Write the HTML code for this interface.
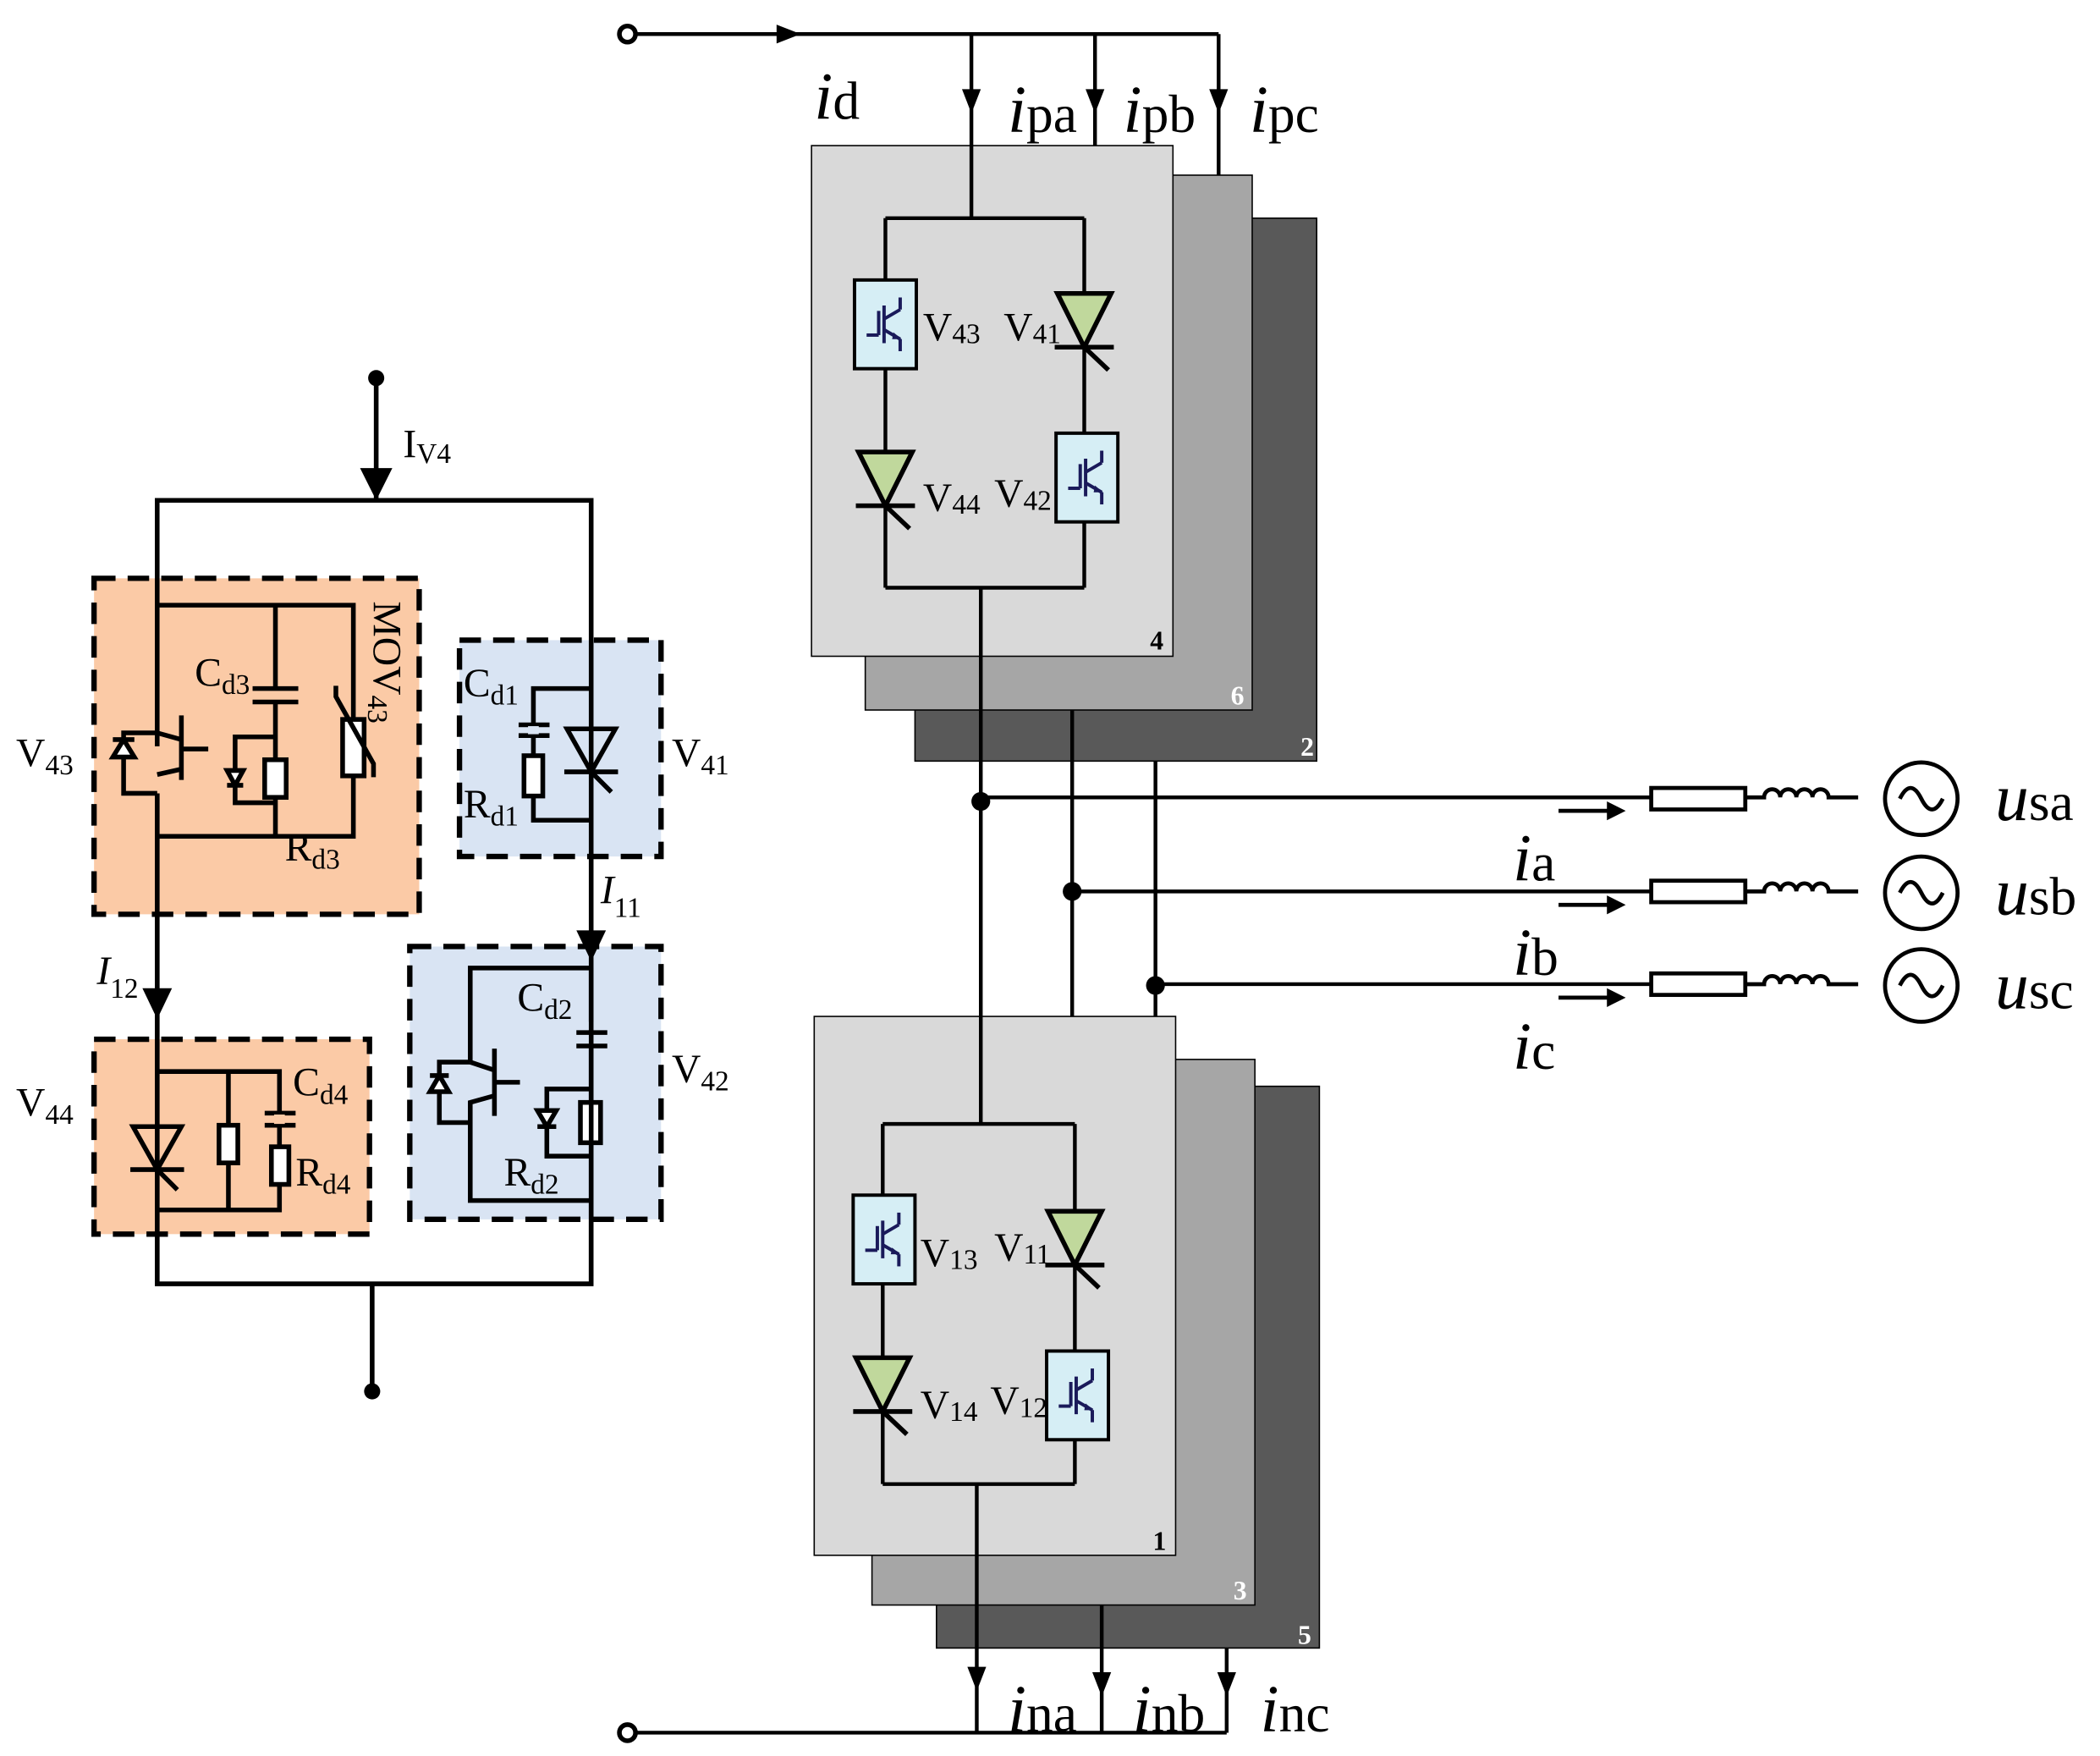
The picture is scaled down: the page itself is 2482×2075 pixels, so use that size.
<!DOCTYPE html>
<html><head><meta charset="utf-8"><style>
html,body{margin:0;padding:0;background:#fff}
svg{display:block}
text{font-family:"Liberation Serif",serif;fill:#000}
</style></head><body>
<svg width="2482" height="2075" viewBox="0 0 1563 1306" xmlns="http://www.w3.org/2000/svg">
<defs>
<g id="igbt">
 <rect x="-23" y="-33" width="46" height="66" fill="#d6eef5" stroke="#000" stroke-width="2.5"/>
 <g stroke="#1a1a5a" stroke-width="2.5" fill="none">
  <line x1="-14" y1="8" x2="-5" y2="8"/><line x1="-5" y1="-10" x2="-5" y2="8"/>
  <line x1="-1" y1="-14" x2="-1" y2="14"/>
  <line x1="-1" y1="-4" x2="11" y2="-11"/><line x1="11" y1="-11" x2="11" y2="-20"/>
  <line x1="-1" y1="4" x2="11" y2="11"/><line x1="11" y1="11" x2="11" y2="20"/>
 </g>
 <polygon points="6,6 12,11 5,11" fill="#1a1a5a"/>
</g>
<g id="thy">
 <polygon points="-20,0 20,0 0,40" fill="#c0d89c" stroke="#000" stroke-width="3.5"/>
 <line x1="-22" y1="40" x2="22" y2="40" stroke="#000" stroke-width="3.5"/>
 <line x1="0" y1="40" x2="18" y2="57" stroke="#000" stroke-width="3.5"/>
</g>
<g id="thyw">
 <polygon points="-18,0 18,0 0,32" fill="none" stroke="#000" stroke-width="3.5"/>
 <line x1="-20" y1="32" x2="20" y2="32" stroke="#000" stroke-width="3.5"/>
 <line x1="0" y1="32" x2="15" y2="47" stroke="#000" stroke-width="3.5"/>
</g>
</defs>

<rect x="681" y="162" width="299" height="404" fill="#595959" stroke="#000" stroke-width="1"/>
<rect x="644" y="130" width="288" height="398" fill="#a6a6a6" stroke="#000" stroke-width="1"/>
<rect x="604" y="108" width="269" height="380" fill="#d9d9d9" stroke="#000" stroke-width="1"/>
<text x="856" y="483" font-size="20" font-weight="bold" fill="#333">4</text>
<text x="916" y="524" font-size="20" font-weight="bold" style="fill:#fff">6</text>
<text x="968" y="562" font-size="20" font-weight="bold" style="fill:#fff">2</text>

<rect x="697" y="808" width="285" height="418" fill="#595959" stroke="#000" stroke-width="1"/>
<rect x="649" y="788" width="285" height="406" fill="#a6a6a6" stroke="#000" stroke-width="1"/>
<rect x="606" y="756" width="269" height="401" fill="#d9d9d9" stroke="#000" stroke-width="1"/>
<text x="858" y="1153" font-size="20" font-weight="bold" fill="#333">1</text>
<text x="918" y="1190" font-size="20" font-weight="bold" style="fill:#fff">3</text>
<text x="966" y="1223" font-size="20" font-weight="bold" style="fill:#fff">5</text>

<g stroke="#000" stroke-width="2.8" fill="none">
 <line x1="473" y1="25" x2="907" y2="25"/>
 <line x1="723" y1="25" x2="723" y2="162"/>
 <line x1="815" y1="25" x2="815" y2="108"/>
 <line x1="907" y1="25" x2="907" y2="130"/>
 <line x1="659" y1="162" x2="807" y2="162"/>
 <line x1="659" y1="162" x2="659" y2="437"/>
 <line x1="807" y1="162" x2="807" y2="437"/>
 <line x1="659" y1="437" x2="807" y2="437"/>
 <line x1="730" y1="437" x2="730" y2="836"/>
 <line x1="798" y1="528" x2="798" y2="756"/>
 <line x1="860" y1="566" x2="860" y2="756"/>
 <line x1="730" y1="593" x2="1233" y2="593"/>
 <line x1="798" y1="663" x2="1233" y2="663"/>
 <line x1="860" y1="732" x2="1233" y2="732"/>
 <line x1="657" y1="836" x2="800" y2="836"/>
 <line x1="657" y1="836" x2="657" y2="1104"/>
 <line x1="800" y1="836" x2="800" y2="1104"/>
 <line x1="657" y1="1104" x2="800" y2="1104"/>
 <line x1="727" y1="1104" x2="727" y2="1289"/>
 <line x1="820" y1="1194" x2="820" y2="1289"/>
 <line x1="913" y1="1226" x2="913" y2="1289"/>
 <line x1="473" y1="1289" x2="913" y2="1289"/>
</g>
<circle cx="467" cy="25" r="6" fill="#fff" stroke="#000" stroke-width="3.5"/>
<circle cx="467" cy="1289" r="6" fill="#fff" stroke="#000" stroke-width="3.5"/>
<polygon points="578,18 596,25 578,32" fill="#000"/>
<polygon points="716,66 730,66 723,84" fill="#000"/>
<polygon points="808,66 822,66 815,84" fill="#000"/>
<polygon points="900,66 914,66 907,84" fill="#000"/>
<polygon points="720,1240 734,1240 727,1258" fill="#000"/>
<polygon points="813,1244 827,1244 820,1262" fill="#000"/>
<polygon points="906,1244 920,1244 913,1262" fill="#000"/>
<circle cx="730" cy="596" r="7" fill="#000"/>
<circle cx="798" cy="663" r="7" fill="#000"/>
<circle cx="860" cy="733" r="7" fill="#000"/>

<use href="#igbt" x="659" y="241"/>
<use href="#thy" x="807" y="218"/>
<use href="#thy" x="659" y="336"/>
<use href="#igbt" x="809" y="355"/>
<text x="687" y="253" font-size="30">V<tspan font-size="21" dy="2">43</tspan></text>
<text x="747" y="253" font-size="30">V<tspan font-size="21" dy="2">41</tspan></text>
<text x="687" y="380" font-size="30">V<tspan font-size="21" dy="2">44</tspan></text>
<text x="740" y="377" font-size="30">V<tspan font-size="21" dy="2">42</tspan></text>
<use href="#igbt" x="658" y="922"/>
<use href="#thy" x="800" y="901"/>
<use href="#thy" x="657" y="1010"/>
<use href="#igbt" x="802" y="1038"/>
<text x="685" y="942" font-size="30">V<tspan font-size="21" dy="2">13</tspan></text>
<text x="740" y="938" font-size="30">V<tspan font-size="21" dy="2">11</tspan></text>
<text x="685" y="1055" font-size="30">V<tspan font-size="21" dy="2">14</tspan></text>
<text x="737" y="1052" font-size="30">V<tspan font-size="21" dy="2">12</tspan></text>

<g font-size="50">
<text x="606" y="88"><tspan font-style="italic">i</tspan><tspan font-size="40">d</tspan></text>
<text x="750" y="98"><tspan font-style="italic">i</tspan><tspan font-size="40">pa</tspan></text>
<text x="836" y="98"><tspan font-style="italic">i</tspan><tspan font-size="40">pb</tspan></text>
<text x="930" y="98"><tspan font-style="italic">i</tspan><tspan font-size="40">pc</tspan></text>
<text x="750" y="1288"><tspan font-style="italic">i</tspan><tspan font-size="40">na</tspan></text>
<text x="843" y="1288"><tspan font-style="italic">i</tspan><tspan font-size="40">nb</tspan></text>
<text x="938" y="1288"><tspan font-style="italic">i</tspan><tspan font-size="40">nc</tspan></text>
<text x="1126" y="655"><tspan font-style="italic">i</tspan><tspan font-size="40">a</tspan></text>
<text x="1126" y="725"><tspan font-style="italic">i</tspan><tspan font-size="40">b</tspan></text>
<text x="1126" y="795"><tspan font-style="italic">i</tspan><tspan font-size="40">c</tspan></text>
<text x="1485" y="610"><tspan font-style="italic">u</tspan><tspan font-size="40">sa</tspan></text>
<text x="1485" y="680"><tspan font-style="italic">u</tspan><tspan font-size="40">sb</tspan></text>
<text x="1485" y="750"><tspan font-style="italic">u</tspan><tspan font-size="40">sc</tspan></text>
</g>

<g stroke="#000" stroke-width="3" fill="none">
 <rect x="1229" y="586" width="70" height="16" fill="#fff"/>
 <rect x="1229" y="655" width="70" height="16" fill="#fff"/>
 <rect x="1229" y="724" width="70" height="16" fill="#fff"/>
 <path d="M1299 593 h14 a6 6 0 0 1 12 0 a6 6 0 0 1 12 0 a6 6 0 0 1 12 0 a6 6 0 0 1 12 0 h22"/>
 <path d="M1299 663 h14 a6 6 0 0 1 12 0 a6 6 0 0 1 12 0 a6 6 0 0 1 12 0 a6 6 0 0 1 12 0 h22"/>
 <path d="M1299 732 h14 a6 6 0 0 1 12 0 a6 6 0 0 1 12 0 a6 6 0 0 1 12 0 a6 6 0 0 1 12 0 h22"/>
 <circle cx="1430" cy="594" r="27"/>
 <circle cx="1430" cy="664" r="27"/>
 <circle cx="1430" cy="733" r="27"/>
 <path d="M1414 594 q8 -16 16 0 t16 0"/>
 <path d="M1414 664 q8 -16 16 0 t16 0"/>
 <path d="M1414 733 q8 -16 16 0 t16 0"/>
 <line x1="1160" y1="603" x2="1200" y2="603"/>
 <line x1="1160" y1="673" x2="1200" y2="673"/>
 <line x1="1160" y1="742" x2="1200" y2="742"/>
</g>
<polygon points="1196,596 1210,603 1196,610" fill="#000"/>
<polygon points="1196,666 1210,673 1196,680" fill="#000"/>
<polygon points="1196,735 1210,742 1196,749" fill="#000"/>

<rect x="70" y="430" width="242" height="250" fill="#fbcaa6" stroke="#000" stroke-width="4" stroke-dasharray="16 9"/>
<rect x="70" y="773" width="205" height="145" fill="#fbcaa6" stroke="#000" stroke-width="4" stroke-dasharray="16 9"/>
<rect x="342" y="476" width="150" height="161" fill="#d9e4f3" stroke="#000" stroke-width="4" stroke-dasharray="16 9"/>
<rect x="305" y="704" width="187" height="203" fill="#d9e4f3" stroke="#000" stroke-width="4" stroke-dasharray="16 9"/>

<g stroke="#000" stroke-width="3.5" fill="none">
 <line x1="280" y1="281" x2="280" y2="372"/>
 <polyline points="117,555 117,372 440,372 440,955 117,955 117,590"/>
 <line x1="277" y1="955" x2="277" y2="1035"/>
 <line x1="117" y1="590" x2="117" y2="955"/>
 <polyline points="117,450 263,450 263,622 117,622"/>
 <line x1="205" y1="450" x2="205" y2="512"/>
 <line x1="188" y1="512" x2="222" y2="512"/>
 <line x1="188" y1="522" x2="222" y2="522"/>
 <polyline points="205,522 205,622"/>
 <polyline points="205,548 175,548 175,597 205,597"/>
 <rect x="197" y="565" width="16" height="28" fill="#fff"/>
 <rect x="255" y="535" width="16" height="42" fill="#fff"/>
 <polyline points="250,510 250,518 278,568 278,578"/>
 <polyline points="117,545 135,550"/>
 <line x1="135" y1="532" x2="135" y2="580"/>
 <line x1="135" y1="557" x2="155" y2="557"/>
 <polyline points="135,572 117,576"/>
 <polyline points="117,545 92,545 92,590 117,590"/>
 <polygon points="84,563 100,563 92,550" fill="#fff"/>
 <line x1="84" y1="550" x2="100" y2="550"/>
 <polygon points="169,573 181,573 175,584" fill="#fff"/>
 <line x1="169" y1="584" x2="181" y2="584"/>
 <polyline points="440,512 397,512 397,539"/>
 <line x1="386" y1="539" x2="409" y2="539"/>
 <line x1="386" y1="547" x2="409" y2="547"/>
 <polyline points="397,547 397,610 440,610"/>
 <rect x="390" y="562" width="14" height="30" fill="#fff"/>
 <polyline points="440,720 350,720 350,790"/>
 <line x1="350" y1="790" x2="368" y2="796"/>
 <line x1="368" y1="780" x2="368" y2="830"/>
 <line x1="368" y1="805" x2="387" y2="805"/>
 <polyline points="368,815 350,820 350,893 440,893"/>
 <polyline points="350,790 327,790 327,835 350,835"/>
 <polygon points="320,812 334,812 327,800" fill="#fff"/>
 <line x1="320" y1="800" x2="334" y2="800"/>
 <line x1="429" y1="768" x2="452" y2="768"/>
 <line x1="429" y1="778" x2="452" y2="778"/>
 <rect x="432" y="820" width="15" height="30" fill="#fff"/>
 <polyline points="440,810 407,810 407,860 440,860"/>
 <polygon points="400,826 414,826 407,838" fill="#fff"/>
 <line x1="400" y1="838" x2="414" y2="838"/>
 <polyline points="117,797 208,797 208,828"/>
 <line x1="197" y1="828" x2="220" y2="828"/>
 <line x1="197" y1="837" x2="220" y2="837"/>
 <polyline points="208,837 208,900 117,900"/>
 <line x1="170" y1="797" x2="170" y2="900"/>
 <rect x="163" y="837" width="14" height="28" fill="#fff"/>
 <rect x="202" y="853" width="13" height="28" fill="#fff"/>
</g>
<rect x="436" y="760" width="8" height="6" fill="#d9e4f3"/>
<line x1="440" y1="720" x2="440" y2="768" stroke="#000" stroke-width="3.5"/>
<line x1="440" y1="778" x2="440" y2="955" stroke="#000" stroke-width="3.5"/>
<rect x="201" y="514" width="8" height="6" fill="#fbcaa6"/>
<rect x="204" y="829" width="8" height="7" fill="#fbcaa6"/>
<rect x="393" y="540" width="8" height="6" fill="#d9e4f3"/>
<use href="#thyw" x="440" y="542"/>
<use href="#thyw" x="117" y="838"/>
<circle cx="280" cy="281" r="6" fill="#000"/>
<circle cx="277" cy="1035" r="6" fill="#000"/>
<polygon points="268,348 292,348 280,372" fill="#000"/>
<polygon points="106,735 128,735 117,758" fill="#000"/>
<polygon points="429,692 451,692 440,715" fill="#000"/>

<g font-size="30">
<text x="300" y="340">I<tspan font-size="21" dy="4">V4</tspan></text>
<text x="12" y="570">V<tspan font-size="21" dy="6">43</tspan></text>
<text x="145" y="510">C<tspan font-size="21" dy="6">d3</tspan></text>
<text x="212" y="640">R<tspan font-size="21" dy="6">d3</tspan></text>
<text x="345" y="518">C<tspan font-size="21" dy="6">d1</tspan></text>
<text x="345" y="608">R<tspan font-size="21" dy="6">d1</tspan></text>
<text x="500" y="570">V<tspan font-size="21" dy="6">41</tspan></text>
<text x="447" y="672"><tspan font-style="italic">I</tspan><tspan font-size="21" dy="10">11</tspan></text>
<text x="72" y="732"><tspan font-style="italic">I</tspan><tspan font-size="21" dy="10">12</tspan></text>
<text x="385" y="752">C<tspan font-size="21" dy="6">d2</tspan></text>
<text x="375" y="882">R<tspan font-size="21" dy="6">d2</tspan></text>
<text x="500" y="805">V<tspan font-size="21" dy="6">42</tspan></text>
<text x="12" y="830">V<tspan font-size="21" dy="6">44</tspan></text>
<text x="218" y="815">C<tspan font-size="21" dy="6">d4</tspan></text>
<text x="220" y="882">R<tspan font-size="21" dy="6">d4</tspan></text>
<text transform="translate(278,447) rotate(90)">MOV<tspan font-size="21" dy="4">43</tspan></text>
</g>
</svg>
</body></html>
